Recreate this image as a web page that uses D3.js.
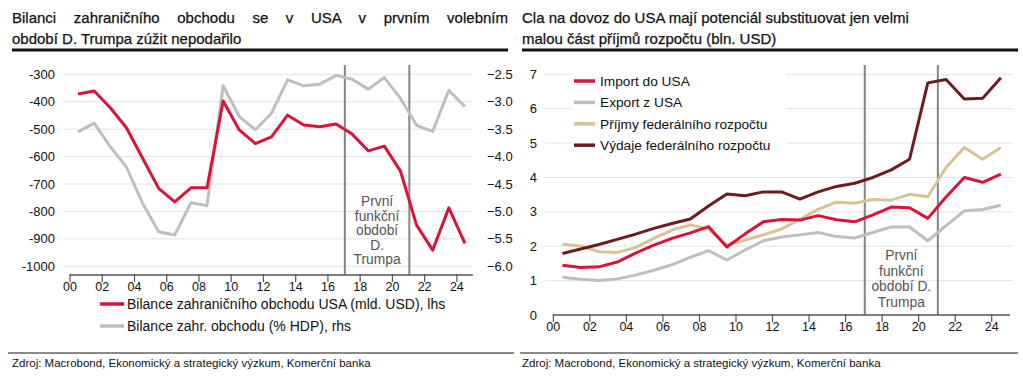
<!DOCTYPE html>
<html><head><meta charset="utf-8">
<script src="https://cdn.jsdelivr.net/npm/d3@7"></script>
<style>
body{margin:0;background:#fff;}
svg{display:block;font-family:"Liberation Sans",Arial,sans-serif;}
</style></head>
<body><svg id="c" width="1023" height="378"></svg>
<script>
// ---------- DATA ----------
const yearsL = d3.range(2000, 2025);
const balanceUSD = [-372,-361,-422,-495,-605,-716,-765,-714,-714,-397,-503,-553,-528,-449,-485,-491,-481,-518,-579,-562,-653,-850,-941,-787,-916];
const balanceGDP = [-3.55,-3.39,-3.82,-4.19,-4.85,-5.37,-5.43,-4.84,-4.89,-2.71,-3.27,-3.51,-3.21,-2.60,-2.71,-2.68,-2.52,-2.59,-2.77,-2.56,-2.94,-3.43,-3.54,-2.79,-3.09];
const yTicksL = [-1000,-900,-800,-700,-600,-500,-400,-300];
const yTicksR = [-6.0,-5.5,-5.0,-4.5,-4.0,-3.5,-3.0,-2.5];
const xTicks = d3.range(2000, 2025, 2);
const trump = [2017.05, 2021.05];

const yearsR = d3.range(2000, 2025);
const importUSA = [1.45,1.38,1.40,1.54,1.80,2.03,2.23,2.39,2.57,1.98,2.36,2.71,2.78,2.76,2.89,2.77,2.71,2.91,3.14,3.12,2.81,3.43,4.00,3.86,4.10];
const exportUSA = [1.10,1.04,1.00,1.05,1.16,1.30,1.46,1.68,1.87,1.60,1.89,2.16,2.27,2.33,2.40,2.28,2.24,2.40,2.56,2.56,2.16,2.60,3.03,3.07,3.19];
const prijmy   = [2.06,2.01,1.84,1.82,1.96,2.23,2.47,2.62,2.50,2.03,2.18,2.33,2.50,2.78,3.07,3.28,3.25,3.36,3.34,3.51,3.44,4.29,4.87,4.53,4.87];
const vydaje   = [1.79,1.92,2.05,2.20,2.35,2.52,2.66,2.79,3.17,3.52,3.47,3.58,3.58,3.37,3.58,3.74,3.83,4.00,4.22,4.53,6.75,6.85,6.28,6.30,6.90];
const yTicksRight = [0,1,2,3,4,5,6,7];

const titleL = ["Bilanci zahraničního obchodu se v USA v prvním volebním", "období D. Trumpa zúžit nepodařilo"];
const titleR = ["Cla na dovoz do USA mají potenciál substituovat jen velmi", "malou část příjmů rozpočtu (bln. USD)"];
const legendL = ["Bilance zahraničního obchodu USA (mld. USD), lhs", "Bilance zahr. obchodu (% HDP), rhs"];
const legendR = ["Import do USA", "Export z USA", "Příjmy federálního rozpočtu", "Výdaje federálního rozpočtu"];
const trumpL = ["První", "funkční", "období", "D.", "Trumpa"];
const trumpR = ["První", "funkční", "období D.", "Trumpa"];
const source = "Zdroj: Macrobond, Ekonomický a strategický výzkum, Komerční banka";

// ---------- STYLE ----------
const RED = "#d9143a", GRAY = "#c0bfbf", TAN = "#d8c395", MAROON = "#6f1a20", VLINE = "#858585", GRID = "#e3e3e3", AXIS = "#555";

const svg = d3.select("#c");

// titles
function title(lines, x0, x1, justifyFirst) {
  lines.forEach((t, i) => {
    const tx = svg.append("text").attr("x", x0).attr("y", 23 + i * 21)
      .attr("font-size", 15).attr("fill", "#111").attr("stroke", "#111").attr("stroke-width", 0.25).text(t);
    if (i === 0 && justifyFirst) {
      const w = tx.node().getComputedTextLength();
      const gaps = t.split(" ").length - 1;
      tx.attr("word-spacing", (x1 - x0 - w) / gaps);
    }
  });
  svg.append("line").attr("x1", x0).attr("x2", x1).attr("y1", 50).attr("y2", 50)
    .attr("stroke", "#111").attr("stroke-width", 3);
}
title(titleL, 12, 508, true);
title(titleR, 522, 1018, false);

// bottom lines & source
[[8, 514, 12], [520, 1018, 522]].forEach(([a, b, tx]) => {
  svg.append("line").attr("x1", a).attr("x2", b).attr("y1", 353).attr("y2", 353).attr("stroke", "#8a8a8a").attr("stroke-width", 2);
  svg.append("text").attr("x", tx).attr("y", 367).attr("font-size", 11.5).attr("fill", "#111").text(source);
});

// ---------- LEFT CHART ----------
const xL = d3.scaleLinear().domain([2000, 2025]).range([70, 473]);
const yL = d3.scaleLinear().domain([-1000, -300]).range([266.3, 74.3]);
const yR = d3.scaleLinear().domain([-6.0, -2.5]).range([266.3, 74.3]);
const axL = 275;
const gL = svg.append("g");

gL.selectAll(".g").data(yTicksL).join("line").attr("x1", 63).attr("x2", 472)
  .attr("y1", d => yL(d)).attr("y2", d => yL(d)).attr("stroke", GRID).attr("stroke-width", 1);
gL.selectAll(".yl").data(yTicksL).join("text").attr("x", 55).attr("y", d => yL(d) + 4.5)
  .attr("text-anchor", "end").attr("font-size", 13).attr("fill", "#111").text(d => d);
gL.selectAll(".yr").data(yTicksR).join("text").attr("x", 487).attr("y", d => yR(d) + 4.5)
  .attr("font-size", 13).attr("fill", "#111").text(d => d3.format(".1f")(d));

// trump lines
gL.selectAll(".tv").data(trump).join("line").attr("x1", d => xL(d)).attr("x2", d => xL(d))
  .attr("y1", 65).attr("y2", axL).attr("stroke", VLINE).attr("stroke-width", 2);
trumpL.forEach((t, i) => gL.append("text").attr("x", (xL(trump[0]) + xL(trump[1])) / 2).attr("y", 206 + i * 14.6)
  .attr("text-anchor", "middle").attr("font-size", 13.8).attr("fill", "#555").text(t));

const lineL = d3.line().x((d, i) => xL(yearsL[i] + 0.5)).y(d => yL(d));
const lineLR = d3.line().x((d, i) => xL(yearsL[i] + 0.5)).y(d => yR(d));
gL.append("path").attr("d", lineLR(balanceGDP)).attr("fill", "none").attr("stroke", GRAY).attr("stroke-width", 3).attr("stroke-linejoin", "round");
gL.append("path").attr("d", lineL(balanceUSD)).attr("fill", "none").attr("stroke", RED).attr("stroke-width", 3).attr("stroke-linejoin", "round");

// x axis
gL.append("line").attr("x1", xL(2000)).attr("x2", xL(2025)).attr("y1", axL).attr("y2", axL).attr("stroke", AXIS).attr("stroke-width", 1.5);
gL.selectAll(".xt").data(xTicks).join("line").attr("x1", d => xL(d)).attr("x2", d => xL(d))
  .attr("y1", axL - 1).attr("y2", axL + 7).attr("stroke", AXIS).attr("stroke-width", 1.2);
gL.selectAll(".xl").data(xTicks).join("text").attr("x", d => xL(d)).attr("y", axL + 16)
  .attr("text-anchor", "middle").attr("font-size", 12.5).attr("fill", "#111").text(d => String(d % 100).padStart(2, "0"));

// legend left
[[RED, legendL[0]], [GRAY, legendL[1]]].forEach(([c, t], i) => {
  const y = 304 + i * 22;
  gL.append("line").attr("x1", 100).attr("x2", 124).attr("y1", y).attr("y2", y).attr("stroke", c).attr("stroke-width", 3.5);
  gL.append("text").attr("x", 127).attr("y", y + 5).attr("font-size", 14).attr("fill", "#111").text(t);
});

// ---------- RIGHT CHART ----------
const xR = d3.scaleLinear().domain([2000, 2025]).range([553.3, 1010]);
const yRR = d3.scaleLinear().domain([0, 7]).range([315, 74.3]);
const axR = 315;
const gR = svg.append("g");
gR.selectAll(".g").data(yTicksRight.filter(d => d > 0)).join("line").attr("x1", 545).attr("x2", 1013)
  .attr("y1", d => yRR(d)).attr("y2", d => yRR(d)).attr("stroke", GRID).attr("stroke-width", 1);
gR.selectAll(".yl").data(yTicksRight).join("text").attr("x", 537).attr("y", d => yRR(d) + 4.5)
  .attr("text-anchor", "end").attr("font-size", 13).attr("fill", "#111").text(d => d);

gR.selectAll(".tv").data(trump).join("line").attr("x1", d => xR(d)).attr("x2", d => xR(d))
  .attr("y1", 65).attr("y2", axR).attr("stroke", VLINE).attr("stroke-width", 2);
trumpR.forEach((t, i) => gR.append("text").attr("x", (xR(trump[0]) + xR(trump[1])) / 2).attr("y", 260 + i * 15.5)
  .attr("text-anchor", "middle").attr("font-size", 13.8).attr("fill", "#555").text(t));

const lineR = d3.line().x((d, i) => xR(yearsR[i] + 0.5)).y(d => yRR(d));
const seriesR = [[exportUSA, GRAY], [prijmy, TAN], [importUSA, RED], [vydaje, MAROON]];
seriesR.forEach(([s, c]) => gR.append("path").attr("d", lineR(s)).attr("fill", "none").attr("stroke", c)
  .attr("stroke-width", 3).attr("stroke-linejoin", "round"));

gR.append("line").attr("x1", xR(2000)).attr("x2", xR(2025)).attr("y1", axR).attr("y2", axR).attr("stroke", AXIS).attr("stroke-width", 1.5);
gR.selectAll(".xt").data(xTicks).join("line").attr("x1", d => xR(d)).attr("x2", d => xR(d))
  .attr("y1", axR - 1).attr("y2", axR + 7).attr("stroke", AXIS).attr("stroke-width", 1.2);
gR.selectAll(".xl").data(xTicks).join("text").attr("x", d => xR(d)).attr("y", axR + 16)
  .attr("text-anchor", "middle").attr("font-size", 12.5).attr("fill", "#111").text(d => String(d % 100).padStart(2, "0"));

// legend right
gR.append("rect").attr("x", 572).attr("y", 70).attr("width", 214).attr("height", 84).attr("fill", "#fff");
[[RED, legendR[0]], [GRAY, legendR[1]], [TAN, legendR[2]], [MAROON, legendR[3]]].forEach(([c, t], i) => {
  const y = 81 + i * 21.4;
  gR.append("line").attr("x1", 574).attr("x2", 595).attr("y1", y).attr("y2", y).attr("stroke", c).attr("stroke-width", 3.5);
  gR.append("text").attr("x", 600).attr("y", y + 5).attr("font-size", 13.7).attr("fill", "#111").text(t);
});
</script></body></html>
